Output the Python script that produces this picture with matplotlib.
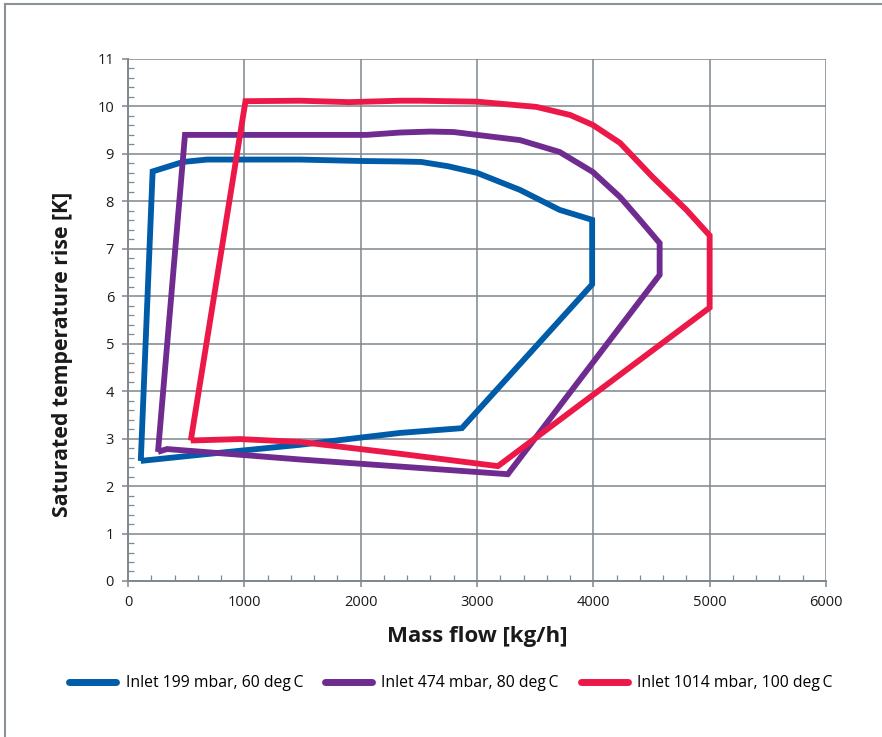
import matplotlib
matplotlib.use('Agg')
import matplotlib.pyplot as plt
from matplotlib.lines import Line2D
from matplotlib.ticker import MultipleLocator

plt.rcParams['font.family'] = ['Open Sans', 'DejaVu Sans']

# Inlet 199 mbar, 60 deg C
blue_x = [110, 212, 473, 680, 1480, 2000, 2340, 2520, 2750, 3000, 3370, 3710, 3990,
          3990, 2870, 2340, 1480, 620, 110]
blue_y = [2.53, 8.63, 8.83, 8.88, 8.88, 8.85, 8.84, 8.83, 8.74, 8.60, 8.24, 7.82, 7.61,
          6.25, 3.22, 3.12, 2.87, 2.66, 2.53]

# Inlet 474 mbar, 80 deg C
purple_x = [258, 490, 2050, 2340, 2600, 2800, 3000, 3370, 3710, 3995, 4230, 4400, 4570,
            4570, 3265, 1480, 335, 258]
purple_y = [2.72, 9.40, 9.40, 9.45, 9.47, 9.46, 9.40, 9.29, 9.04, 8.62, 8.09, 7.61, 7.12,
            6.45, 2.25, 2.56, 2.78, 2.72]

# Inlet 1014 mbar, 100 deg C
red_x = [540, 1010, 1480, 1900, 2340, 2510, 3000, 3510, 3800, 3995, 4230, 4510, 4800, 5000,
         5000, 3180, 2340, 1480, 960, 540]
red_y = [2.96, 10.11, 10.12, 10.09, 10.12, 10.12, 10.10, 9.99, 9.82, 9.61, 9.23, 8.51, 7.82, 7.28,
         5.76, 2.42, 2.68, 2.93, 2.99, 2.96]

labels = ['Inlet 199 mbar, 60 deg\u2009C',
          'Inlet 474 mbar, 80 deg\u2009C',
          'Inlet 1014 mbar, 100 deg\u2009C']
colors = ['#005ba9', '#6f2b8f', '#ec1848']

fig = plt.figure(figsize=(8.82, 7.37), dpi=100)
ax = fig.add_axes([0.1451, 0.2117, 0.7914, 0.7083])

grey = '#7e888e'
for xs, ys, c in zip([blue_x, purple_x, red_x], [blue_y, purple_y, red_y], colors):
    ax.plot(xs, ys, color=c, lw=4.2, solid_joinstyle='miter', solid_capstyle='butt', zorder=3)

ax.set_xlim(0, 6000)
ax.set_ylim(0, 11)
ax.xaxis.set_major_locator(MultipleLocator(1000))
ax.xaxis.set_minor_locator(MultipleLocator(200))
ax.yaxis.set_major_locator(MultipleLocator(1))
ax.yaxis.set_minor_locator(MultipleLocator(0.2))
ax.grid(True, which='major', color=grey, lw=1.1, zorder=0)
ax.set_axisbelow(True)
for s in ['top', 'right']:
    ax.spines[s].set_visible(False)
for s in ['left', 'bottom']:
    ax.spines[s].set_color(grey)
    ax.spines[s].set_linewidth(1.4)
ax.tick_params(which='major', direction='out', length=4, width=1.1, color=grey,
               labelsize=10.5, labelcolor='#1a1a1a', pad=6)
ax.tick_params(which='minor', direction='in', length=4, width=0.9, color=grey)

ax.set_xlabel('Mass flow [kg/h]', fontsize=16, fontweight='bold', color='#1a1a1a')
ax.set_ylabel('Saturated temperature rise [K]', fontsize=15.3, fontweight='bold', color='#1a1a1a')
ax.xaxis.set_label_coords(0.5, -0.086)
ax.yaxis.set_label_coords(-0.079, 0.435)

handles = [Line2D([], [], color=c, lw=5, solid_capstyle='round') for c in colors]
fig.legend(handles, labels, loc='center', bbox_to_anchor=(451 / 882, 1 - 683 / 737), ncol=3,
           frameon=False, fontsize=11.3, handlelength=3.0, handletextpad=0.6,
           columnspacing=1.4)

# frame lines at the left and top edges of the picture
fig.add_artist(Line2D([5 / 882, 5 / 882], [0, 1 - 4 / 737], color='#8a9297', lw=1.5))
fig.add_artist(Line2D([5 / 882, 1], [1 - 4 / 737, 1 - 4 / 737], color='#8a9297', lw=1.5))

fig.savefig('out.png', dpi=100)
